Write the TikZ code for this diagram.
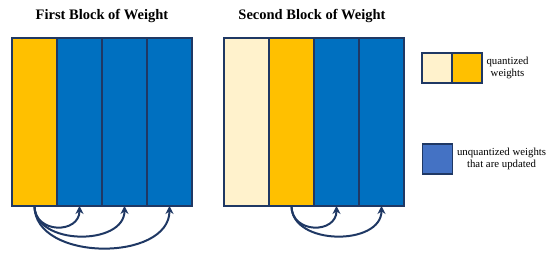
\documentclass[tikz,border=0pt]{standalone}
\usepackage{fontspec}
\setmainfont{Liberation Serif}
\usepackage{xcolor}
\usepackage{tikz}
\usetikzlibrary{positioning, arrows.meta}

\definecolor{qyellow}{HTML}{FFC000}
\definecolor{qcream}{HTML}{FFF2CC}
\definecolor{wblue}{HTML}{0070C0}
\definecolor{lblue}{HTML}{4472C4}
\definecolor{navy}{HTML}{1F3864}

\tikzset{
    col/.style={draw=navy, line width=1.3pt, outer sep=0pt, inner sep=0pt, minimum width=45pt, minimum height=168pt},
    legbox/.style={draw=navy, line width=1.3pt, outer sep=0pt, inner sep=0pt, minimum width=30pt, minimum height=30pt},
    upd/.style={draw=navy, line width=2pt, -{Stealth[length=8pt, width=8pt]}},
}

\begin{document}
\begin{tikzpicture}[x=1pt, y=-1pt, every node/.style={font=\fontsize{10.8}{12.5}\selectfont}]
    \useasboundingbox (0,0) rectangle (550,256);

    % first block
    \node[font=\bfseries\fontsize{14.5}{16}\selectfont] (title1) at (102,16) {First Block of Weight};
    \node[col, fill=qyellow] (f1) at (34.5,122) {};
    \node[col, fill=wblue, right=0pt of f1] (f2) {};
    \node[col, fill=wblue, right=0pt of f2] (f3) {};
    \node[col, fill=wblue, right=0pt of f3] (f4) {};

    % second block
    \node[font=\bfseries\fontsize{14.5}{16}\selectfont] (title2) at (312,16) {Second Block of Weight};
    \node[col, fill=qcream] (s1) at (246.5,122) {};
    \node[col, fill=qyellow, right=0pt of s1] (s2) {};
    \node[col, fill=wblue, right=0pt of s2] (s3) {};
    \node[col, fill=wblue, right=0pt of s3] (s4) {};

    % updates
    \draw[upd] (f1.south) .. controls +(0,28) and +(0,28) .. (f2.south);
    \draw[upd] (f1.south) .. controls +(0,40) and +(0,40) .. (f3.south);
    \draw[upd] (f1.south) .. controls +(0,56) and +(0,56) .. (f4.south);
    \draw[upd] (s2.south) .. controls +(0,28) and +(0,28) .. (s3.south);
    \draw[upd] (s2.south) .. controls +(0,40) and +(0,40) .. (s4.south);

    % legend
    \node[legbox, fill=qcream] (lq1) at (437,68) {};
    \node[legbox, fill=qyellow, right=0pt of lq1] (lq2) {};
    \node[align=center, right=1pt of lq2] (lqtext) {quantized\\weights};
    \node[legbox, fill=lblue] (lu) at (437.5,159) {};
    \node[align=center, right=1pt of lu] (lutext) {unquantized weights\\that are updated};
\end{tikzpicture}
\end{document}
